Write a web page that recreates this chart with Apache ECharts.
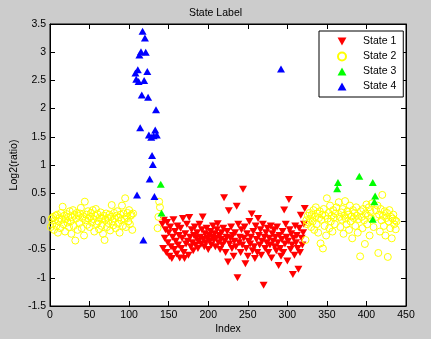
<!DOCTYPE html>
<html>
<head>
<meta charset="utf-8">
<script src="https://cdn.jsdelivr.net/npm/echarts@6/dist/echarts.min.js"></script>
<style>
html,body{margin:0;padding:0;background:#cccccc;}
#c{width:431px;height:339px;}
</style>
</head>
<body>
<div id="c"></div>
<script>
// [index, log2(ratio)] pairs per state label
const state1 = [[142,-0.05],[143,-0.48],[144,0.02],[145,-0.30],[146,-0.15],[147,-0.55],[148,-0.02],[149,-0.38],[150,-0.20],[151,-0.62],[152,-0.10],[153,-0.45],[154,-0.66],[155,-0.28],[156,0.03],[157,-0.50],[158,-0.18],[159,-0.35],[160,-0.58],[161,-0.08],[162,-0.42],[163,-0.25],[164,-0.65],[165,-0.12],[166,-0.48],[167,-0.30],[168,0.05],[169,-0.55],[170,-0.66],[171,-0.22],[172,-0.40],[173,-0.05],[174,-0.35],[175,-0.60],[176,0.07],[177,-0.28],[178,-0.45],[179,-0.15],[180,-0.38],[181,-0.52],[182,-0.25],[183,-0.10],[184,-0.42],[185,-0.30],[186,-0.20],[187,-0.48],[188,-0.35],[189,-0.05],[190,-0.28],[191,-0.40],[192,-0.15],[193,0.08],[194,-0.32],[195,-0.45],[196,-0.22],[197,-0.38],[198,-0.12],[199,-0.30],[200,-0.50],[201,-0.25],[202,-0.35],[203,-0.18],[204,-0.42],[205,-0.28],[206,-0.08],[207,-0.33],[208,-0.22],[209,-0.45],[210,-0.30],[211,-0.15],[212,-0.04],[213,-0.38],[214,-0.25],[215,-0.50],[216,-0.32],[217,-0.20],[218,-0.42],[219,-0.12],[220,0.42],[221,-0.35],[222,-0.55],[223,-0.28],[224,-0.18],[225,-0.72],[226,0.19],[227,-0.40],[228,-0.30],[229,-0.10],[230,-0.48],[231,-0.25],[232,-0.62],[233,-0.35],[234,-0.20],[235,-0.45],[236,0.27],[237,-1.00],[238,-0.05],[239,-0.38],[240,-0.28],[241,-0.55],[242,-0.15],[243,-0.42],[244,0.57],[245,-0.30],[246,-0.10],[247,-0.75],[248,-0.48],[249,-0.22],[250,-0.62],[251,-0.35],[252,0.00],[253,-0.40],[254,-0.28],[255,0.13],[256,-0.52],[257,-0.18],[258,-0.45],[259,-0.66],[260,-0.08],[261,-0.32],[262,-0.55],[263,0.05],[264,-0.25],[265,-0.42],[266,-0.15],[267,-0.60],[268,-0.35],[269,-0.05],[270,-1.13],[271,-0.28],[272,-0.48],[273,-0.20],[274,-0.38],[275,-0.12],[276,-0.55],[277,-0.30],[278,-0.42],[279,-0.08],[280,-0.65],[281,-0.22],[282,-0.35],[283,-0.15],[284,-0.45],[285,-0.28],[286,-0.52],[287,-0.10],[288,-0.38],[289,-0.78],[290,-0.25],[291,-0.48],[292,-0.62],[293,-0.32],[294,-0.18],[295,-0.55],[296,0.20],[297,-0.40],[298,-0.05],[299,-0.28],[300,-0.70],[301,-0.35],[302,0.39],[303,-0.15],[304,-0.50],[305,-0.22],[306,-0.42],[307,-0.94],[308,-0.30],[309,-0.60],[310,-0.08],[311,-0.38],[312,-0.25],[313,-0.48],[314,-0.85],[315,-0.12],[316,-0.55],[317,0.11],[318,-0.30],[319,-0.42],[320,-0.20],[321,-0.05],[322,0.23]];

const state2 = [[1,-0.10],[2,0.05],[3,-0.05],[4,0.08],[5,-0.15],[6,0.02],[7,0.10],[8,-0.08],[9,0.12],[10,-0.20],[11,0.00],[12,0.06],[13,-0.12],[14,0.15],[15,0.03],[16,0.26],[17,-0.05],[18,0.10],[19,-0.18],[20,0.04],[21,0.13],[22,-0.02],[23,0.08],[24,-0.10],[25,0.18],[26,0.00],[27,-0.22],[28,0.07],[29,0.20],[30,-0.08],[31,0.12],[32,-0.34],[33,0.05],[34,0.15],[35,-0.15],[36,0.10],[37,-0.03],[38,0.14],[39,0.24],[40,-0.12],[41,0.06],[42,0.09],[43,-0.25],[44,0.35],[45,0.02],[46,0.12],[47,-0.06],[48,0.18],[49,0.05],[50,-0.10],[51,0.08],[52,0.15],[53,-0.02],[54,0.20],[55,0.04],[56,-0.18],[57,0.10],[58,0.22],[59,-0.05],[60,0.13],[61,0.00],[62,-0.14],[63,0.07],[64,0.16],[65,-0.08],[66,0.05],[67,-0.22],[68,0.10],[69,-0.33],[70,0.03],[71,0.14],[72,-0.10],[73,0.06],[74,-0.03],[75,0.12],[76,-0.16],[77,0.08],[78,0.29],[79,0.00],[80,-0.07],[81,0.15],[82,0.05],[83,-0.12],[84,0.10],[85,0.18],[86,-0.04],[87,0.07],[88,-0.20],[89,0.12],[90,0.02],[91,0.28],[92,-0.08],[93,0.14],[94,0.05],[95,0.41],[96,-0.10],[97,0.08],[98,0.15],[99,0.00],[100,0.20],[101,-0.05],[102,0.10],[103,0.12],[104,-0.15],[105,0.14],
[136,-0.12],[137,0.08],[138,0.35],[139,0.25],
[323,-0.33],[324,0.02],[325,-0.05],[326,0.10],[327,-0.02],[328,0.15],[329,0.05],[330,-0.10],[331,0.12],[332,0.00],[333,0.20],[334,-0.15],[335,0.08],[336,0.25],[337,-0.05],[338,0.14],[339,-0.20],[340,0.06],[341,0.18],[342,-0.39],[343,0.03],[344,0.12],[345,-0.48],[346,0.22],[347,-0.08],[348,0.10],[349,-0.25],[350,0.41],[351,0.05],[352,0.15],[353,-0.12],[354,0.28],[355,0.00],[356,0.10],[357,-0.18],[358,0.20],[359,0.07],[360,-0.05],[361,0.14],[362,0.25],[365,0.34],[366,0.08],[367,-0.10],[368,0.16],[369,0.03],[370,0.22],[371,-0.22],[372,0.10],[373,0.36],[374,0.05],[375,-0.05],[376,0.18],[377,0.12],[378,-0.15],[379,0.28],[380,0.00],[381,0.09],[382,-0.30],[383,0.20],[384,0.06],[385,0.15],[386,-0.08],[387,0.25],[388,0.10],[389,-0.20],[390,0.04],[392,-0.62],[393,0.18],[394,0.08],[395,-0.12],[396,0.22],[397,0.02],[398,-0.40],[399,0.14],[400,0.30],[401,-0.05],[402,0.10],[403,0.25],[404,-0.25],[405,0.18],[406,0.05],[407,0.32],[409,-0.10],[412,0.20],[413,0.08],[414,0.28],[415,-0.56],[416,0.12],[417,-0.18],[418,0.22],[419,0.02],[420,0.47],[421,0.10],[422,-0.08],[423,0.18],[424,-0.25],[425,0.06],[426,0.15],[427,-0.63],[428,0.00],[429,0.20],[430,-0.12],[431,0.08],[432,-0.30],[433,0.05],[434,0.12],[435,-0.05],[436,0.02],[437,-0.14],[438,0.00]];

const state3 = [[140,0.66],[141,0.15],[363,0.58],[364,0.69],[391,0.80],[408,0.69],[408,0.04],[410,0.35],[411,0.45]];

const state4 = [[108,2.63],[109,2.52],[110,0.47],[111,2.69],[112,2.48],[113,2.95],[114,1.66],[115,3.01],[116,2.24],[117,3.37],[118,-0.33],[119,2.50],[120,3.25],[121,3.00],[123,2.66],[124,2.20],[125,1.53],[126,0.75],[128,1.49],[129,1.17],[130,1.01],[131,1.52],[132,0.44],[133,1.62],[134,1.98],[135,1.53],[292,2.70]];

const seriesNames = ['State 1','State 2','State 3','State 4'];
const xTicks = {min:0, max:450, interval:50};
const yTicks = {min:-1.5, max:3.5, interval:0.5};

const font = 'Liberation Sans, Arial, Helvetica, sans-serif';
const fs = 10.5;
const chart = echarts.init(document.getElementById('c'), null, {renderer:'canvas'});
const axisCommon = {
  type:'value',
  axisLine:{show:true, onZero:false, lineStyle:{color:'#000', width:1}},
  axisTick:{show:true, inside:true, length:5, lineStyle:{color:'#000'}},
  splitLine:{show:false}
};
const downTri = 'path://M0,0 L10,0 L5,9 Z';
const upTri = 'path://M5,0 L10,9 L0,9 Z';
chart.setOption({
  backgroundColor:'#cccccc',
  animation:false,
  title:{text:'State Label', left:'center', top:3,
    textStyle:{fontSize:fs, fontWeight:'normal', color:'#000', fontFamily:font}},
  grid:{left:50, right:25, top:24, bottom:33, containLabel:false, outerBoundsMode:'none',
    show:true, backgroundColor:'#fff', borderColor:'#000', borderWidth:1},
  legend:{
    orient:'vertical', left:319, top:31,
    backgroundColor:'#fff', borderColor:'#000', borderWidth:1, borderRadius:0,
    padding:[4,7,4,18], itemGap:2, itemWidth:10, itemHeight:8,
    textStyle:{fontSize:fs, color:'#000', fontFamily:font, lineHeight:13, padding:[0,0,0,11]},
    data:[
      {name:seriesNames[0], icon:downTri},
      {name:seriesNames[1], icon:'circle'},
      {name:seriesNames[2], icon:upTri},
      {name:seriesNames[3], icon:upTri}
    ]
  },
  xAxis:[
    Object.assign({}, axisCommon, xTicks, {position:'bottom', name:'Index', nameLocation:'middle', nameGap:18,
      nameMoveOverlap:false,
      nameTextStyle:{fontSize:fs, color:'#000', fontFamily:font},
      axisLabel:{color:'#000', fontSize:fs, margin:4, fontFamily:font}}),
    Object.assign({}, axisCommon, xTicks, {position:'top', axisLabel:{show:false}})
  ],
  yAxis:[
    Object.assign({}, axisCommon, yTicks, {position:'left', name:'Log2(ratio)', nameLocation:'middle', nameGap:30,
      nameMoveOverlap:false,
      nameTextStyle:{fontSize:fs, color:'#000', fontFamily:font},
      axisLabel:{color:'#000', fontSize:fs, margin:4, fontFamily:font}}),
    Object.assign({}, axisCommon, yTicks, {position:'right', axisLabel:{show:false}})
  ],
  series:[
    {name:seriesNames[0], type:'scatter', data:state1, symbol:'triangle', symbolRotate:180, symbolSize:[8,7],
      itemStyle:{color:'#ff0000', opacity:1}},
    {name:seriesNames[1], type:'scatter', data:state2, symbol:'circle', symbolSize:7,
      itemStyle:{color:'rgba(255,255,255,0)', borderColor:'#ffff00', borderWidth:1, opacity:1}},
    {name:seriesNames[2], type:'scatter', data:state3, symbol:'triangle', symbolSize:[8,7],
      itemStyle:{color:'#00ff00', opacity:1}},
    {name:seriesNames[3], type:'scatter', data:state4, symbol:'triangle', symbolSize:[8,7],
      itemStyle:{color:'#0000ff', opacity:1}}
  ]
});
</script>
</body>
</html>
